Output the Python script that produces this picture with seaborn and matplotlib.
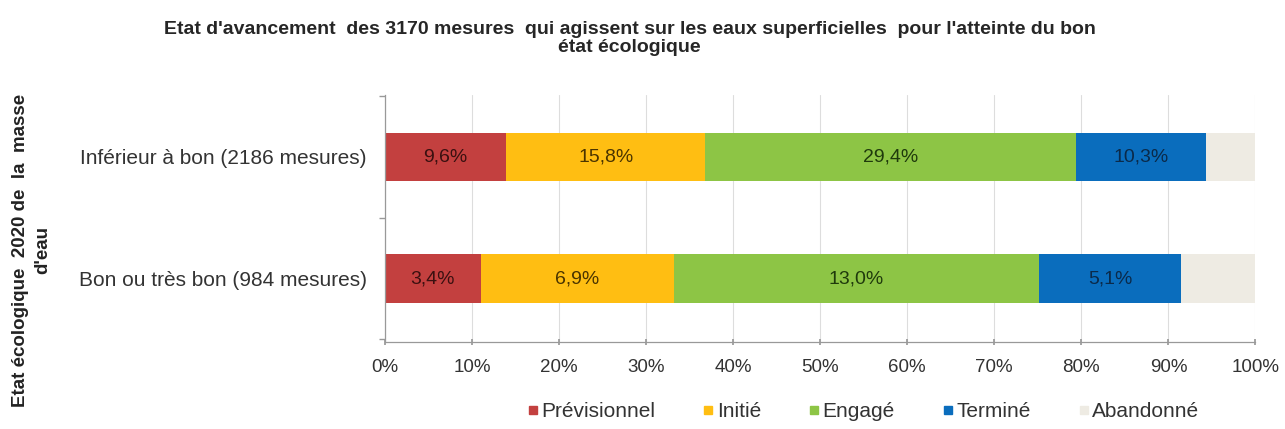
import numpy as np
import pandas as pd
import matplotlib
matplotlib.use("Agg")
import matplotlib.pyplot as plt
from matplotlib.lines import Line2D
import seaborn as sns

# categories (rows) and status series
rows = ["Inférieur à bon (2186 mesures)", "Bon ou très bon (984 mesures)"]
statuses = ["Prévisionnel", "Initié", "Engagé", "Terminé", "Abandonné"]

# share of each row (bar widths, % of the row)
previsionnel = [13.9, 11.0]
initie = [22.9, 22.2]
engage = [42.6, 41.9]
termine = [14.9, 16.4]
abandonne = [5.7, 8.5]

# labels written on the bars (% of the 3170 measures)
lab_previsionnel = ["9,6%", "3,4%"]
lab_initie = ["15,8%", "6,9%"]
lab_engage = ["29,4%", "13,0%"]
lab_termine = ["10,3%", "5,1%"]

colors = ["#C3403F", "#FFBE12", "#8DC545", "#0A6DBD", "#EEEBE3"]
text_colors = ["#3A1010", "#4A3400", "#1F3A0C", "#0B2A4A"]


def build_frame():
    df = pd.DataFrame({"row": rows,
                       "Prévisionnel": previsionnel,
                       "Initié": initie,
                       "Engagé": engage,
                       "Terminé": termine,
                       "Abandonné": abandonne})
    return df


def main():
    sns.set_theme(style="white")
    plt.rcParams["font.family"] = ["Liberation Sans", "DejaVu Sans"]

    df = build_frame()
    cum = df[statuses].cumsum(axis=1)

    fig = plt.figure(figsize=(12.85, 4.29), dpi=100)
    ax = fig.add_axes([0.2996, 0.203, 0.6774, 0.576])

    # draw longest cumulative bar first, shorter ones on top
    for i in range(len(statuses) - 1, -1, -1):
        sns.barplot(x=cum[statuses[i]], y=df["row"], orient="h", color=colors[i],
                    width=0.4, saturation=1, ax=ax, linewidth=0)

    labels = [lab_previsionnel, lab_initie, lab_engage, lab_termine]
    for i, labs in enumerate(labels):
        centers = cum[statuses[i]] - df[statuses[i]] / 2
        for j, txt in enumerate(labs):
            ax.text(centers[j], j, txt, ha="center", va="center",
                    fontsize=14, color=text_colors[i])

    ax.set_xlim(0, 100)
    ax.set_ylim(1.52, -0.51)
    ax.set_xticks(np.arange(0, 101, 10))
    ax.set_xticklabels([f"{v}%" for v in range(0, 101, 10)], fontsize=13.5, color="#333333")
    ax.set_yticks([-0.5, 0.5, 1.5], minor=True)
    ax.tick_params(axis="y", which="major", length=0, labelsize=15, labelcolor="#333333", pad=13)
    ax.tick_params(axis="y", which="minor", length=4, color="#999999", direction="out", left=True)
    ax.tick_params(axis="x", length=5, color="#999999", direction="inout", bottom=True, pad=10)
    ax.xaxis.grid(True, color="#DDDDDD", linewidth=0.8)
    ax.set_axisbelow(True)
    ax.set_xlabel("")
    ax.set_ylabel("")
    for s in ["top", "right"]:
        ax.spines[s].set_visible(False)
    for s in ["left", "bottom"]:
        ax.spines[s].set_color("#999999")
        ax.spines[s].set_linewidth(0.9)

    fig.text(0.49, 0.91, "Etat d'avancement  des 3170 mesures  qui agissent sur les eaux superficielles  pour l'atteinte du bon\nétat écologique",
             ha="center", va="center", fontsize=14, fontweight="bold", linespacing=1.12)
    fig.text(0.0245, 0.417, "Etat écologique  2020 de  la  masse\nd'eau", rotation=90,
             ha="center", va="center", fontsize=13.5, fontweight="bold", color="#222222",
             linespacing=1.45)

    handles = [Line2D([0], [0], marker="s", linestyle="", markersize=6,
                      markerfacecolor=c, markeredgecolor=c) for c in colors]
    fig.legend(handles, statuses, loc="center", bbox_to_anchor=(0.672, 0.04), ncol=5,
               frameon=False, fontsize=15, handlelength=0.5, handletextpad=0.15,
               columnspacing=2.3, labelcolor="#333333")

    fig.savefig("out.png", dpi=100)


if __name__ == "__main__":
    main()
